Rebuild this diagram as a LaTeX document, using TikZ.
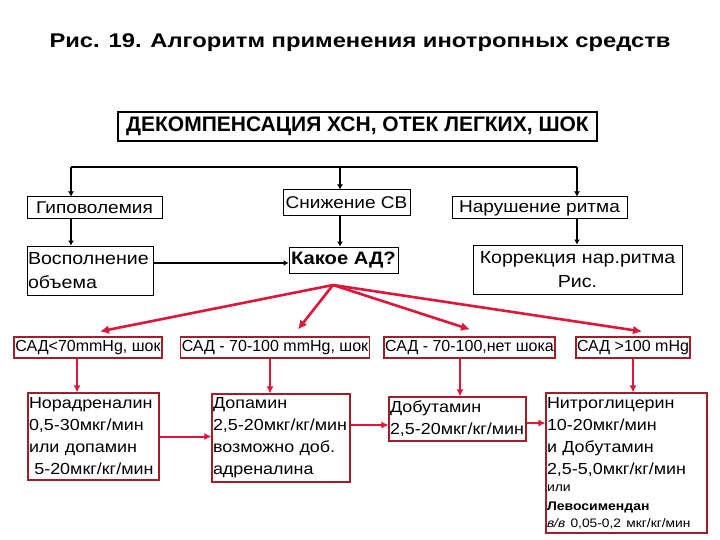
\documentclass[tikz,border=0pt]{standalone}
\usepackage{fontspec}
\setmainfont{Liberation Sans}[FakeStretch=1.12]
\newfontfamily\plainfont{Liberation Sans}
\newfontfamily\titlefont[FakeStretch=1.2]{Liberation Sans}
\usetikzlibrary{arrows.meta,calc}
\definecolor{arrowred}{RGB}{222,22,58}
\definecolor{boxred}{RGB}{160,30,40}

\begin{document}
\begin{tikzpicture}[x=1pt,y=-1pt,every node/.style={font=\fontsize{16}{22}\selectfont, inner sep=2pt},
    blackbox/.style={draw, line width=1pt, fill=white, font=\fontsize{17}{22}\selectfont},
    redbox/.style={draw=boxred, line width=1.1pt, fill=white},
    sadbox/.style={redbox, minimum height=21pt, inner sep=1pt, font=\fontsize{16}{18}\selectfont\plainfont},
    blackarrow/.style={line width=2.6pt, -{Latex[length=5pt,width=6pt]}},
    redarrow/.style={draw=arrowred, line width=2.6pt, -{Latex[length=9pt,width=9pt]}},
    thinred/.style={draw=arrowred, line width=2pt, -{Latex[length=7pt,width=7pt]}}]
                \useasboundingbox (0,0) rectangle (720,540);
                \node[font=\fontsize{19.8}{24}\selectfont\titlefont\bfseries] (title) at (360,43) {Рис. 19. Алгоритм применения инотропных средств};
                \node[draw, line width=2.6pt, minimum width=479pt, minimum height=29pt, inner sep=1pt, font=\fontsize{21}{24}\selectfont\plainfont\bfseries] (dekomp) at (357.5,126.5) {ДЕКОМПЕНСАЦИЯ ХСН, ОТЕК ЛЕГКИХ, ШОК};
                \node[blackbox, minimum width=135pt, minimum height=22pt, inner sep=0pt] (hypo) at (94.5,208) {Гиповолемия};
                \node[blackbox, minimum width=127pt, minimum height=26pt, inner sep=0pt] (snizh) at (346.5,203) {Снижение СВ};
                \node[blackbox, minimum width=175pt, minimum height=22pt, inner sep=0pt] (narush) at (539.5,208) {Нарушение ритма};
                \node[blackbox, text width=124pt, minimum height=49pt, inner sep=1pt, align=left, font=\fontsize{17.5}{24}\selectfont] (vospoln) at (90,270.5) {Восполнение\\объема};
                \node[blackbox, minimum width=109pt, minimum height=26pt, inner sep=0pt, font=\fontsize{18}{22}\selectfont\bfseries] (kakoe) at (343.5,260) {Какое АД?};
                \node[blackbox, text width=205pt, minimum height=49pt, align=center, font=\fontsize{17.5}{24}\selectfont] (korr) at (577.5,269.5) {Коррекция нар.ритма\\Рис.};
                \node[sadbox, minimum width=148pt] (sad1) at (88,347.5) {САД<70mmHg, шок};
                \node[sadbox, minimum width=188pt] (sad2) at (275,347.5) {САД - 70-100 mmHg, шок};
                \node[sadbox, minimum width=171pt] (sad3) at (469.5,347.5) {САД - 70-100,нет шока};
                \node[sadbox, minimum width=114pt] (sad4) at (633,347.5) {САД >100 mHg};
                \node[redbox, text width=129pt, minimum height=87pt, inner sep=1pt, align=left] (nor) at (93.5,436.5)
                {Норадреналин\\0,5-30мкг/мин\\или допамин\\\ 5-20мкг/кг/мин};
                \node[redbox, text width=136pt, minimum height=88pt, inner sep=1pt, align=left] (dop) at (281,438)
                {Допамин\\\mbox{2,5-20мкг/кг/мин}\\возможно доб.\\адреналина};
                \node[redbox, text width=135pt, minimum height=44pt, inner sep=1pt, align=left] (dob) at (457.5,419)
                {Добутамин\\\mbox{2,5-20мкг/кг/мин}};
                \node[redbox, text width=159pt, minimum height=140pt, align=left, inner sep=1pt] (nitro) at (626.5,463)
                {Нитроглицерин\\10-20мкг/мин\\и Добутамин\\2,5-5,0мкг/кг/мин\\[-5pt]
                {\fontsize{12.5}{17}\selectfont или}\\[-3pt]
                {\fontsize{12.5}{18}\selectfont\bfseries Левосимендан}\\[-5pt]
                {\fontsize{12.3}{16}\selectfont\itshape в/в\upshape{} 0,05-0,2 мкг/кг/мин}};
                \coordinate (barL) at (71,167);
                \coordinate (barM) at (340,167);
                \coordinate (barR) at (577,167);
                \coordinate (apex) at (333,285);
                \draw[line width=2.6pt] (barL) -- (barR);
                \draw[blackarrow] (barL) -- (barL |- hypo.north);
                \draw[blackarrow] (barM) -- (barM |- snizh.north);
                \draw[blackarrow] (barR) -- (barR |- narush.north);
                \draw[blackarrow] (barL |- hypo.south) -- (barL |- vospoln.north);
                \draw[blackarrow] (barM |- snizh.south) -- (barM |- kakoe.north);
                \draw[blackarrow] (barR |- narush.south) -- (barR |- korr.north);
                \draw[blackarrow] (vospoln.east |- 0,263) -- (kakoe.west |- 0,263);
                \draw[redarrow] (apex) -- ($(sad1.north)+(12,-5)$);
                \draw[redarrow] (apex) -- ($(sad2.north)+(23,-7)$);
                \draw[redarrow] (apex) -- ($(sad3.north)+(0.5,-7)$);
                \draw[redarrow] (apex) -- ($(sad4.north)+(9,-5)$);
                \draw[thinred] ([xshift=-11pt]sad1.south) -- ([xshift=-11pt]sad1.south |- nor.north);
                \draw[thinred] ([xshift=-5pt]sad2.south) -- ([xshift=-5pt]sad2.south |- dop.north);
                \draw[thinred] ([xshift=-9.5pt]sad3.south) -- ([xshift=-9.5pt]sad3.south |- dob.north);
                \draw[thinred] (sad4.south) -- (sad4.south |- nitro.north);
                \draw[thinred] (nor.east) -- (nor.east -| dop.west);
                \draw[thinred] ([yshift=13pt]dop.east) -- ([yshift=13pt]dop.east -| dob.west);
                \draw[thinred] ([yshift=-4pt]dob.east) -- ([yshift=-4pt]dob.east -| nitro.west);
            \end{tikzpicture}
\end{document}
